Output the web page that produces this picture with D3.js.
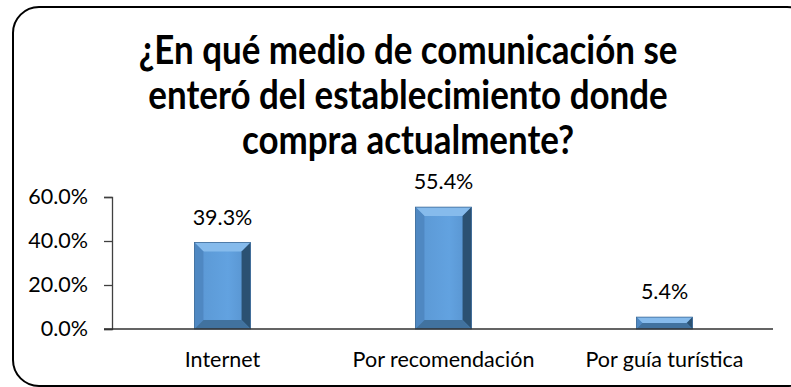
<!DOCTYPE html>
<html lang="es">
<head>
  <meta charset="UTF-8">
  <title>Medio de comunicación</title>
  <script src="https://d3js.org/d3.v7.min.js"></script>
  <style>
    body { margin: 0; background: #fff; }
    svg text { font-family: Lato, "Open Sans", sans-serif; fill: #000; }
  </style>
</head>
<body>
<div id="chart"></div>
<script>
  const categories = ["Internet", "Por recomendación", "Por guía turística"];
  const values = [39.3, 55.4, 5.4];
  const tickValues = [0, 20, 40, 60];
  const titleLines = [
    "¿En qué medio de comunicación se",
    "enteró del establecimiento donde",
    "compra actualmente?"
  ];

  const width = 791, height = 387;
  const labelSize = 21.5;
  const svg = d3.select("#chart").append("svg")
    .attr("width", width)
    .attr("height", height);

  // frame (rounded, runs off the right edge)
  svg.append("rect")
    .attr("x", 13).attr("y", 7)
    .attr("width", 800).attr("height", 379)
    .attr("rx", 26).attr("ry", 26)
    .attr("fill", "none")
    .attr("stroke", "#000")
    .attr("stroke-width", 2);

  // title, sized so the first line spans ~539px
  const title = svg.append("g");
  const t0 = title.append("text")
    .attr("font-weight", "bold")
    .attr("font-size", 30)
    .text(titleLines[0]);
  const fs = 30 * 539 / t0.node().getComputedTextLength();
  t0.remove();
  title.selectAll("text")
    .data(titleLines)
    .join("text")
      .attr("transform", (d, i) => `translate(408,${64 + i * 45}) scale(1,1.13)`)
      .attr("text-anchor", "middle")
      .attr("font-weight", "bold")
      .attr("font-size", fs)
      .text(d => d);

  const x = d3.scaleBand()
    .domain(categories)
    .range([112, 775])
    .paddingInner(0.746)
    .paddingOuter(0.373);

  const y = d3.scaleLinear()
    .domain([0, 60])
    .range([329, 197]);

  // bar face gradient
  const defs = svg.append("defs");
  const grad = defs.append("linearGradient")
    .attr("id", "face").attr("x1", 0).attr("x2", 1).attr("y1", 0).attr("y2", 0);
  grad.append("stop").attr("offset", "0%").attr("stop-color", "#5a97d3");
  grad.append("stop").attr("offset", "60%").attr("stop-color", "#62a2e0");
  grad.append("stop").attr("offset", "100%").attr("stop-color", "#5691cc");

  const barData = categories.map((c, i) => ({ c, v: values[i] }));

  const bars = svg.append("g")
    .selectAll("g")
    .data(barData)
    .join("g");

  bars.each(function(d) {
    const g = d3.select(this);
    const x0 = x(d.c), x1 = x0 + x.bandwidth();
    const y0 = y(d.v), y1 = y(0);
    const b = Math.min(9, (y1 - y0) / 2);
    g.append("rect")
      .attr("x", x0).attr("y", y0)
      .attr("width", x1 - x0).attr("height", y1 - y0)
      .attr("fill", "url(#face)");
    // bevels
    const poly = (pts, fill) => g.append("polygon")
      .attr("points", pts.map(p => p.join(",")).join(" "))
      .attr("fill", fill);
    poly([[x0, y0], [x1, y0], [x1 - b, y0 + b], [x0 + b, y0 + b]], "#86bbec");
    poly([[x0, y0], [x0 + b, y0 + b], [x0 + b, y1 - b], [x0, y1]], "#4f88c2");
    poly([[x1, y0], [x1, y1], [x1 - b, y1 - b], [x1 - b, y0 + b]], "#2b5172");
    poly([[x0, y1], [x1, y1], [x1 - b, y1 - b], [x0 + b, y1 - b]], "#41729f");
    g.append("rect")
      .attr("x", x0).attr("y", y0)
      .attr("width", x1 - x0).attr("height", y1 - y0)
      .attr("fill", "none")
      .attr("stroke", "#3c6a98")
      .attr("stroke-width", 0.8);
  });

  // value labels
  svg.append("g")
    .selectAll("text")
    .data(barData)
    .join("text")
      .attr("x", d => x(d.c) + x.bandwidth() / 2)
      .attr("y", d => y(d.v) - 18)
      .attr("text-anchor", "middle")
      .attr("font-size", labelSize)
      .text(d => d.v.toFixed(1) + "%");

  // y axis
  const yAxis = svg.append("g")
    .attr("transform", "translate(112,0)")
    .call(d3.axisLeft(y).tickValues(tickValues).tickSize(8).tickPadding(16)
      .tickFormat(d => d.toFixed(1) + "%"));
  yAxis.select(".domain").attr("stroke", "#404040").attr("stroke-width", 1.3);
  yAxis.selectAll(".tick line").attr("stroke", "#404040").attr("stroke-width", 1.3);
  yAxis.selectAll("text").attr("font-size", labelSize).attr("fill", "#000");

  // x axis
  svg.append("line")
    .attr("x1", 104).attr("x2", 773)
    .attr("y1", y(0)).attr("y2", y(0))
    .attr("stroke", "#303030").attr("stroke-width", 1.5);

  svg.append("g")
    .selectAll("text")
    .data(categories)
    .join("text")
      .attr("x", d => x(d) + x.bandwidth() / 2)
      .attr("y", 367)
      .attr("text-anchor", "middle")
      .attr("font-size", labelSize)
      .text(d => d);
</script>
</body>
</html>
